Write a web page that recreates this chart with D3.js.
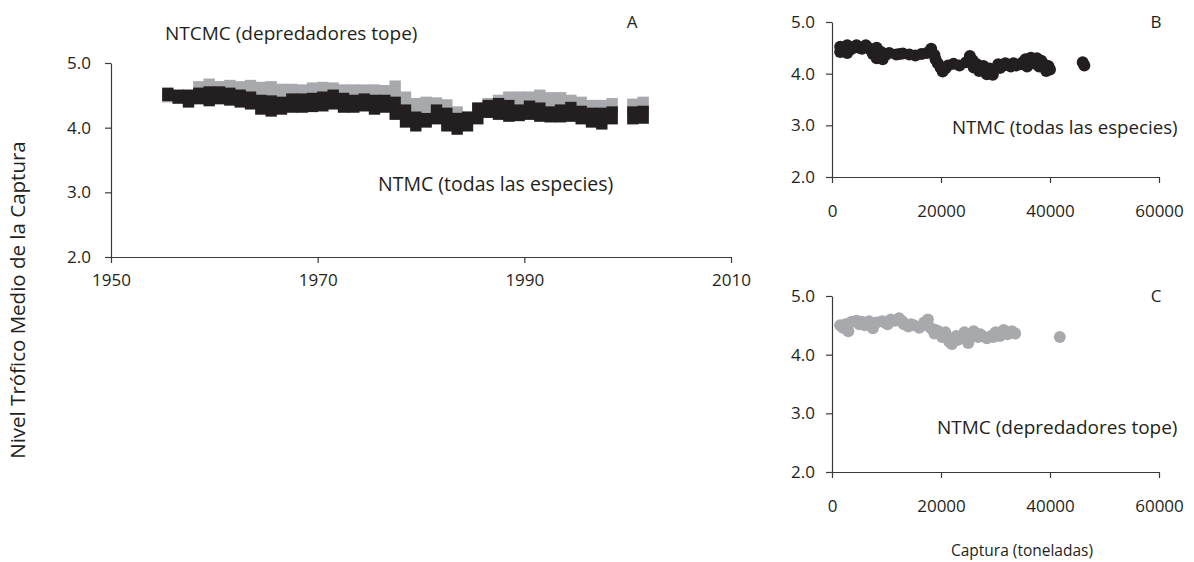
<!DOCTYPE html>
<html>
<head>
<meta charset="utf-8">
<script src="https://cdn.jsdelivr.net/npm/d3@7"></script>
<style>
  html, body { margin: 0; padding: 0; background: #fff; }
  svg text { font-family: "Open Sans", sans-serif; fill: #231f20; }
  .axis path, .axis line { stroke: #3a3a3a; stroke-width: 1.2; }
  .axis text { font-size: 17px; fill: #231f20; }
</style>
</head>
<body>
<svg id="chart" width="1194" height="562"></svg>
<script>
// ---- Panel A: mean trophic level of the catch per year (annual range of values) ----
const yearsA = [1955,1956,1957,1958,1959,1960,1961,1962,1963,1964,1965,1966,1967,1968,1969,
  1970,1971,1972,1973,1974,1975,1976,1977,1978,1979,1980,1981,1982,1983,1984,1985,1986,1987,
  1988,1989,1990,1991,1992,1993,1994,1995,1996,1997,1998,2000,2001];

// NTMC, all species: upper and lower values within each year
const ntmcHi = [4.55,4.52,4.52,4.55,4.57,4.57,4.55,4.52,4.49,4.44,4.43,4.41,4.46,4.46,4.47,
  4.49,4.52,4.47,4.44,4.46,4.44,4.44,4.41,4.29,4.18,4.16,4.29,4.24,4.16,4.18,4.32,4.36,4.39,
  4.36,4.29,4.35,4.32,4.26,4.29,4.33,4.27,4.24,4.24,4.26,4.26,4.27];
const ntmcLo = [4.48,4.44,4.38,4.43,4.40,4.43,4.41,4.38,4.35,4.27,4.24,4.27,4.30,4.30,4.31,
  4.32,4.35,4.30,4.30,4.32,4.27,4.30,4.19,4.07,4.01,4.07,4.12,4.01,3.96,4.01,4.12,4.22,4.19,
  4.16,4.17,4.19,4.16,4.15,4.15,4.16,4.12,4.07,4.04,4.12,4.12,4.13];

// NTCMC, top predators: upper and lower values within each year
const ntcmcHi = [4.50,4.48,4.46,4.65,4.69,4.65,4.67,4.65,4.67,4.64,4.65,4.61,4.61,4.60,4.63,
  4.64,4.63,4.60,4.60,4.60,4.60,4.59,4.66,4.49,4.39,4.41,4.40,4.37,4.26,4.18,4.32,4.39,4.44,
  4.49,4.49,4.49,4.52,4.48,4.48,4.44,4.41,4.36,4.36,4.39,4.38,4.41];
const ntcmcLo = [4.46,4.44,4.40,4.52,4.54,4.54,4.52,4.49,4.46,4.41,4.40,4.38,4.43,4.43,4.44,
  4.46,4.49,4.44,4.41,4.43,4.41,4.41,4.38,4.36,4.30,4.30,4.30,4.26,4.18,4.13,4.29,4.33,4.36,
  4.33,4.26,4.32,4.29,4.23,4.26,4.30,4.24,4.21,4.21,4.23,4.23,4.24];

// ---- Panel B: NTMC (all species) against catch ----
const catchB = [1500,1500,2800,2800,3400,4000,4500,5000,5500,6200,6600,7000,7500,8200,8200,
  8600,9000,9300,9800,10500,11800,12400,13000,14200,15300,16400,17400,18200,18800,19000,19400,
  19900,20300,20800,21300,22300,23400,24600,25300,25800,26000,26600,27000,27800,28400,28900,
  29000,29500,30500,30800,31300,31800,32800,33300,33800,34600,35000,35500,35800,36500,36800,
  37000,37600,38000,38400,38900,39300,39700,40000,46000,46300];
const ntmcB = [4.52,4.42,4.55,4.40,4.47,4.50,4.55,4.50,4.48,4.55,4.50,4.47,4.38,4.50,4.30,
  4.38,4.42,4.28,4.36,4.40,4.37,4.38,4.39,4.37,4.35,4.38,4.40,4.48,4.36,4.28,4.20,
  4.12,4.04,4.10,4.16,4.19,4.16,4.22,4.34,4.26,4.12,4.18,4.05,4.15,3.99,4.10,
  4.05,3.98,4.18,4.11,4.15,4.20,4.14,4.20,4.16,4.18,4.22,4.28,4.14,4.31,4.25,
  4.20,4.30,4.14,4.25,4.18,4.05,4.15,4.08,4.22,4.16];

// ---- Panel C: NTCMC (top predators) against catch ----
const catchC = [1500,2000,2500,3000,3600,4500,5000,5500,6000,6800,7200,7500,8200,9200,9700,
  10200,10800,11600,12300,12900,13200,14000,14500,15000,16000,16900,17300,17600,18200,18800,
  19000,19500,20200,20800,21000,21500,22000,22800,23000,23500,24300,24700,25000,25300,26000,
  26800,27200,27600,28400,29200,29600,30000,30800,31000,31500,32200,32700,33000,33600,41800];
const ntcmcC = [4.50,4.46,4.52,4.40,4.56,4.58,4.52,4.56,4.50,4.57,4.52,4.45,4.55,4.57,4.55,
  4.52,4.60,4.58,4.62,4.57,4.52,4.48,4.52,4.50,4.46,4.55,4.50,4.60,4.45,4.36,
  4.42,4.40,4.30,4.38,4.30,4.22,4.18,4.32,4.25,4.28,4.38,4.30,4.20,4.30,4.40,
  4.30,4.35,4.32,4.28,4.32,4.30,4.38,4.32,4.38,4.42,4.35,4.38,4.40,4.36,4.30];

const yTicks = [2, 3, 4, 5];
const yearTicks = [1950, 1970, 1990, 2010];
const catchTicks = [0, 20000, 40000, 60000];

const BLACK = "#231f20";
const GRAY = "#a7a9ac";

const svg = d3.select("#chart");
const fmtY = d3.format(".1f");

// ---------- Panel A ----------
const xA = d3.scaleLinear().domain([1950, 2010]).range([111, 731]);
const yA = d3.scaleLinear().domain([2, 5]).range([257, 63]);

const gA = svg.append("g");
gA.append("g").attr("class", "axis")
  .attr("transform", `translate(${xA.range()[0]},0)`)
  .call(d3.axisLeft(yA).tickValues(yTicks).tickFormat(fmtY).tickSize(6).tickSizeOuter(0).tickPadding(14));
gA.append("g").attr("class", "axis")
  .attr("transform", `translate(0,${yA.range()[0]})`)
  .call(d3.axisBottom(xA).tickValues(yearTicks).tickFormat(d3.format("d")).tickSize(6).tickSizeOuter(0).tickPadding(11));

// each year is drawn as a block of square markers spanning its range of values
const MARK = 4.5;
function yearBand(g, hi, lo, color) {
  const rows = yearsA.map((t, i) => ({ t, hi: hi[i], lo: lo[i] }));
  g.append("g").selectAll("rect").data(rows).join("rect")
    .attr("x", d => xA(d.t - 0.05))
    .attr("width", d => xA(d.t + 1.05) - xA(d.t - 0.05))
    .attr("y", d => yA(d.hi) - MARK)
    .attr("height", d => yA(d.lo) - yA(d.hi) + 2 * MARK)
    .attr("fill", color);
}
yearBand(gA, ntcmcHi, ntcmcLo, GRAY);
yearBand(gA, ntmcHi, ntmcLo, BLACK);

gA.append("text").attr("x", 165).attr("y", 33).attr("dy", "0.35em")
  .style("font-size", "19px").text("NTCMC (depredadores tope)");
gA.append("text").attr("x", 632).attr("y", 22).attr("dy", "0.35em").attr("text-anchor", "middle")
  .style("font-size", "17px").text("A");
gA.append("text").attr("x", 378).attr("y", 184).attr("dy", "0.35em")
  .style("font-size", "19.5px").text("NTMC (todas las especies)");

// ---------- Panels B and C ----------
function catchPanel(top, bottom, xs, ys, color, letter, label, labelX, labelY, labelSize) {
  const x = d3.scaleLinear().domain([0, 60000]).range([832, 1159]);
  const y = d3.scaleLinear().domain([2, 5]).range([bottom, top]);
  const g = svg.append("g");
  g.append("g").attr("class", "axis")
    .attr("transform", `translate(${x.range()[0]},0)`)
    .call(d3.axisLeft(y).tickValues(yTicks).tickFormat(fmtY).tickSize(6).tickSizeOuter(0).tickPadding(11));
  g.append("g").attr("class", "axis")
    .attr("transform", `translate(0,${y.range()[0]})`)
    .call(d3.axisBottom(x).tickValues(catchTicks).tickFormat(d3.format("d")).tickSize(6).tickSizeOuter(0).tickPadding(22));
  g.append("g").selectAll("circle").data(xs.map((c, i) => [c, ys[i]])).join("circle")
    .attr("cx", d => x(d[0]))
    .attr("cy", d => y(d[1]))
    .attr("r", 6)
    .attr("fill", color);
  g.append("text").attr("x", x(60000) - 3).attr("y", top).attr("dy", "0.35em").attr("text-anchor", "middle")
    .style("font-size", "17px").text(letter);
  g.append("text").attr("x", labelX).attr("y", labelY).attr("dy", "0.35em")
    .style("font-size", labelSize).text(label);
  return g;
}
catchPanel(22, 177, catchB, ntmcB, BLACK, "B", "NTMC (todas las especies)", 952, 127, "18.7px");
catchPanel(296, 472, catchC, ntcmcC, GRAY, "C", "NTMC (depredadores tope)", 937, 427, "19px");

svg.append("text").attr("x", 1022).attr("y", 551).attr("dy", "0.35em").attr("text-anchor", "middle")
  .style("font-size", "15.5px").text("Captura (toneladas)");

svg.append("text")
  .attr("transform", "translate(18,300) rotate(-90)")
  .attr("dy", "0.35em").attr("text-anchor", "middle")
  .style("font-size", "20.5px").text("Nivel Trófico Medio de la Captura");
</script>
</body>
</html>
